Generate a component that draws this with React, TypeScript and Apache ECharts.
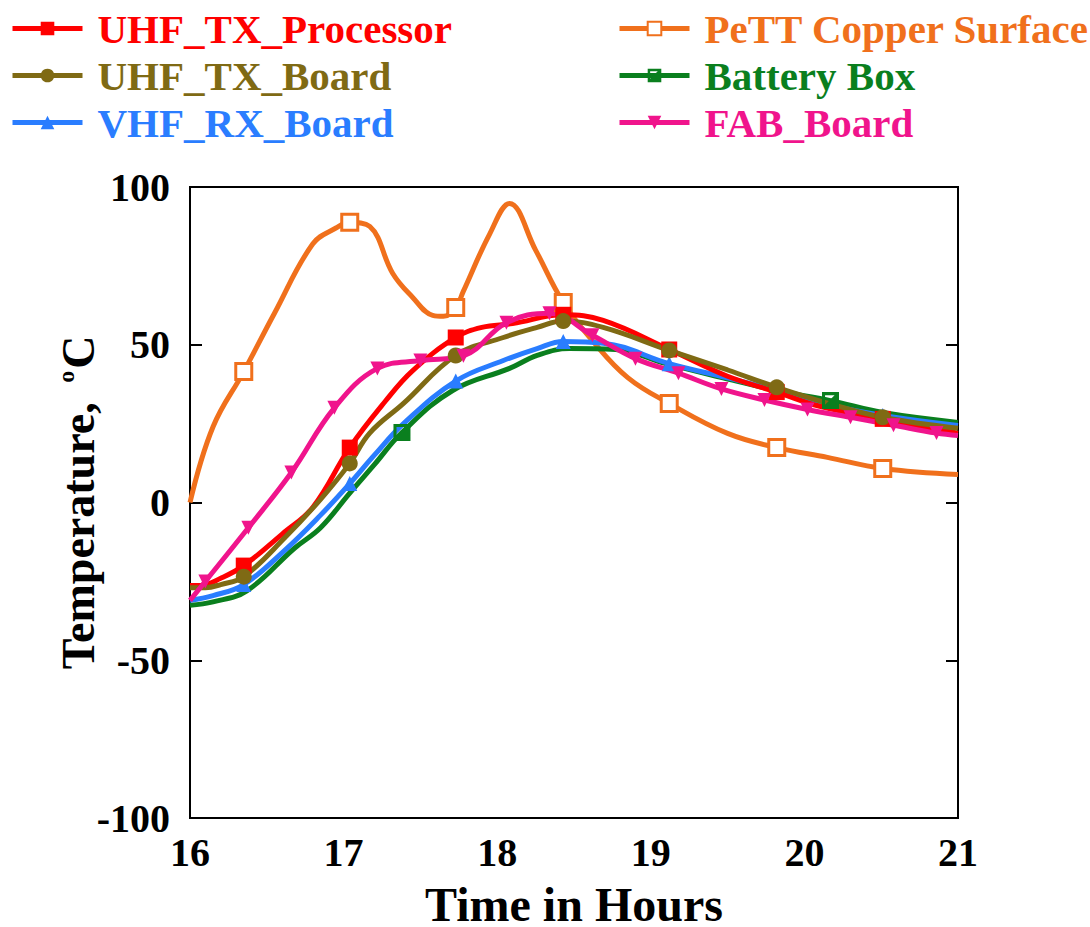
import React, { useEffect, useRef } from "react";
import * as echarts from "echarts";

// ---- data ----
const xTicks = [16, 17, 18, 19, 20, 21];
const yTicks = [-100, -50, 0, 50, 100];

const procTime = [16.0, 16.07, 16.2, 16.35, 16.6, 16.8, 17.04, 17.27, 17.45, 17.73, 17.9, 18.1, 18.43, 18.69, 19.12, 19.5, 19.82, 20.1, 20.51, 21.0];
const procTemp = [-26.3, -26.3, -24, -20, -10, -1.5, 17.4, 32, 41.8, 52.3, 55.5, 56.7, 59.5, 57.7, 48.5, 40, 35, 30.5, 26.5, 22];
const procMarks = [16.35, 17.04, 17.73, 18.43, 19.12, 19.82, 20.51];

const pettTime = [16.0, 16.15, 16.35, 16.55, 16.8, 16.95, 17.04, 17.17, 17.32, 17.45, 17.58, 17.65, 17.73, 17.78, 17.95, 18.08, 18.25, 18.43, 18.62, 18.85, 19.12, 19.5, 19.82, 20.15, 20.51, 21.0];
const pettTemp = [0, 24, 41.5, 60, 82, 87, 88.8, 87.5, 72.6, 65, 59.3, 59, 61.8, 67, 85, 94.8, 80, 63.4, 51.3, 39.6, 31.4, 21.9, 17.4, 14.3, 10.8, 8.9];
const pettMarks = [16.35, 17.04, 17.73, 18.43, 19.12, 19.82, 20.51];

const boardTime = [16.0, 16.1, 16.2, 16.35, 16.62, 16.85, 17.04, 17.17, 17.39, 17.73, 18.04, 18.26, 18.43, 18.69, 19.12, 19.5, 19.82, 20.15, 20.51, 21.0];
const boardTemp = [-27, -27, -26, -23.5, -11, 1, 12.4, 22, 31.4, 46.6, 52.3, 55.5, 57.5, 55.5, 48.2, 42, 36.5, 31.5, 27, 23.5];
const boardMarks = [16.35, 17.04, 17.73, 18.43, 19.12, 19.82, 20.51];

const battTime = [16.0, 16.15, 16.37, 16.68, 16.85, 17.04, 17.2, 17.38, 17.71, 18.08, 18.26, 18.47, 18.77, 19.1, 19.47, 19.82, 20.17, 20.51, 21.0];
const battTemp = [-32.6, -31.5, -28, -14.5, -8, 3, 12, 22.2, 35.5, 42.5, 46.6, 48.8, 48.5, 44, 39.5, 35.5, 32.3, 28.5, 25.4];
const battMarks = [17.38, 20.17];

const vhfTime = [16.0, 16.15, 16.35, 16.62, 16.85, 17.04, 17.2, 17.39, 17.73, 18.04, 18.26, 18.43, 18.69, 19.12, 19.5, 19.82, 20.15, 20.51, 21.0];
const vhfTemp = [-31, -29.5, -26, -15, -4, 6, 15, 25, 38.5, 45, 48.8, 51, 50.5, 44, 39.5, 35.5, 31, 27.6, 24.4];
const vhfMarks = [16.35, 17.04, 17.73, 18.43, 19.12, 19.82, 20.51];

const fabTime = [16.0, 16.1, 16.38, 16.66, 16.94, 17.22, 17.5, 17.78, 18.06, 18.34, 18.62, 18.9, 19.18, 19.46, 19.74, 20.02, 20.3, 20.58, 20.86, 21.0];
const fabTemp = [-31, -25, -8, 9.5, 30, 42.5, 45, 46.5, 57, 60, 53, 45.6, 41, 36, 32.5, 29.5, 27, 24.5, 22, 21.2];
const fabMarks = [16.1, 16.38, 16.66, 16.94, 17.22, 17.5, 17.78, 18.06, 18.34, 18.62, 18.9, 19.18, 19.46, 19.74, 20.02, 20.3, 20.58, 20.86];

const names = ["UHF_TX_Processor", "PeTT Copper Surface", "UHF_TX_Board", "Battery Box", "VHF_RX_Board", "FAB_Board"];

const C_RED = "#FF0000";
const C_ORANGE = "#F0701C";
const C_OLIVE = "#7F6A14";
const C_GREEN = "#0A7F1E";
const C_BLUE = "#2A7DFF";
const C_PINK = "#F0148C";

const FONT = "'Liberation Serif', 'Times New Roman', serif";
const HALF_SQ = "path://M0,0L10,0L10,10L0,10Z M1.8,1.8L1.8,7.4L7.4,1.8Z";

function build(times: number[], temps: number[], marks: number[]) {
  return times.map((t, i) => {
    const m = marks.some((k) => Math.abs(k - t) < 1e-6);
    return m ? { value: [t, temps[i]] } : { value: [t, temps[i]], symbol: "none" };
  });
}

function mkSeries(name: string, color: string, times: number[], temps: number[], marks: number[], sym: string, size: number, extra: any = {}) {
  return {
    name,
    type: "line",
    data: build(times, temps, marks),
    smooth: 0.4,
    showAllSymbol: true,
    symbol: sym,
    symbolSize: size,
    lineStyle: { color, width: 5 },
    itemStyle: { color },
    ...extra,
  };
}

export default function App() {
  const ref = useRef<HTMLDivElement>(null);
  useEffect(() => {
    if (!ref.current) return;
    const chart = echarts.init(ref.current, null, { renderer: "svg" });
    const legendText = (n: string, c: string) => ({ name: n, textStyle: { color: c } });
    const legendCommon = {
      orient: "vertical",
      itemWidth: 70,
      itemHeight: 17,
      itemGap: 6,
      lineStyle: { width: 5 },
      textStyle: { fontFamily: FONT, fontWeight: "bold", fontSize: 41, padding: [0, 0, 0, 10] },
      selectedMode: false,
    };
    chart.setOption({
      animation: false,
      backgroundColor: "#ffffff",
      legend: [
        {
          ...legendCommon,
          left: 5,
          top: 3,
          data: [legendText(names[0], C_RED), legendText(names[2], C_OLIVE), legendText(names[4], C_BLUE)],
        },
        {
          ...legendCommon,
          left: 612,
          top: 3,
          data: [legendText(names[1], C_ORANGE), legendText(names[3], C_GREEN), legendText(names[5], C_PINK)],
        },
      ],
      grid: {
        left: 190,
        right: 132,
        top: 187,
        bottom: 109,
        show: true,
        borderColor: "#000",
        borderWidth: 2,
        backgroundColor: "transparent",
        containLabel: false,
        outerBoundsMode: "none",
      },
      xAxis: {
        type: "value",
        min: xTicks[0],
        max: xTicks[xTicks.length - 1],
        interval: 1,
        name: "Time in Hours",
        nameLocation: "middle",
        nameGap: 66,
        nameMoveOverlap: false,
        nameTextStyle: { fontFamily: FONT, fontWeight: "bold", fontSize: 48, lineHeight: 40, color: "#000" },
        axisLine: { show: true, onZero: false, lineStyle: { color: "#000", width: 2 } },
        axisTick: { show: false },
        splitLine: { show: false },
        axisLabel: { fontFamily: FONT, fontWeight: "bold", fontSize: 40, color: "#000", margin: 14 },
      },
      yAxis: [
        {
          type: "value",
          min: yTicks[0],
          max: yTicks[yTicks.length - 1],
          interval: 50,
          name: "Temperature, {sup|o}C",
          nameLocation: "middle",
          nameRotate: 90,
          nameGap: 88,
          nameMoveOverlap: false,
          nameTextStyle: {
            fontFamily: FONT,
            fontWeight: "bold",
            fontSize: 46,
            color: "#000",
            rich: {
              sup: { fontFamily: FONT, fontSize: 24, color: "#000", verticalAlign: "top", padding: [0, 2, 24, 8] },
            },
          },
          axisLine: { show: true, lineStyle: { color: "#000", width: 2 } },
          axisTick: { show: true, inside: true, length: 12, lineStyle: { color: "#000", width: 2 } },
          splitLine: { show: false },
          axisLabel: { fontFamily: FONT, fontWeight: "bold", fontSize: 40, color: "#000", margin: 20 },
        },
        {
          type: "value",
          position: "right",
          min: yTicks[0],
          max: yTicks[yTicks.length - 1],
          interval: 50,
          axisLine: { show: true, lineStyle: { color: "#000", width: 2 } },
          axisTick: { show: true, inside: true, length: 12, lineStyle: { color: "#000", width: 2 } },
          splitLine: { show: false },
          axisLabel: { show: false },
        },
      ],
      series: [
        mkSeries(names[1], C_ORANGE, pettTime, pettTemp, pettMarks, "rect", 16, {
          itemStyle: { color: "#fff", borderColor: C_ORANGE, borderWidth: 3 },
        }),
        mkSeries(names[3], C_GREEN, battTime, battTemp, battMarks, HALF_SQ, 17),
        mkSeries(names[4], C_BLUE, vhfTime, vhfTemp, vhfMarks, "triangle", 15),
        mkSeries(names[0], C_RED, procTime, procTemp, procMarks, "rect", 16),
        mkSeries(names[2], C_OLIVE, boardTime, boardTemp, boardMarks, "circle", 16),
        mkSeries(names[5], C_PINK, fabTime, fabTemp, fabMarks, "triangle", 14, { symbolRotate: 180 }),
      ],
    });
    return () => chart.dispose();
  }, []);
  return (
    <div
      ref={ref}
      style={{ position: "absolute", left: 0, top: 0, width: 1090, height: 927, background: "#fff" }}
    />
  );
}
